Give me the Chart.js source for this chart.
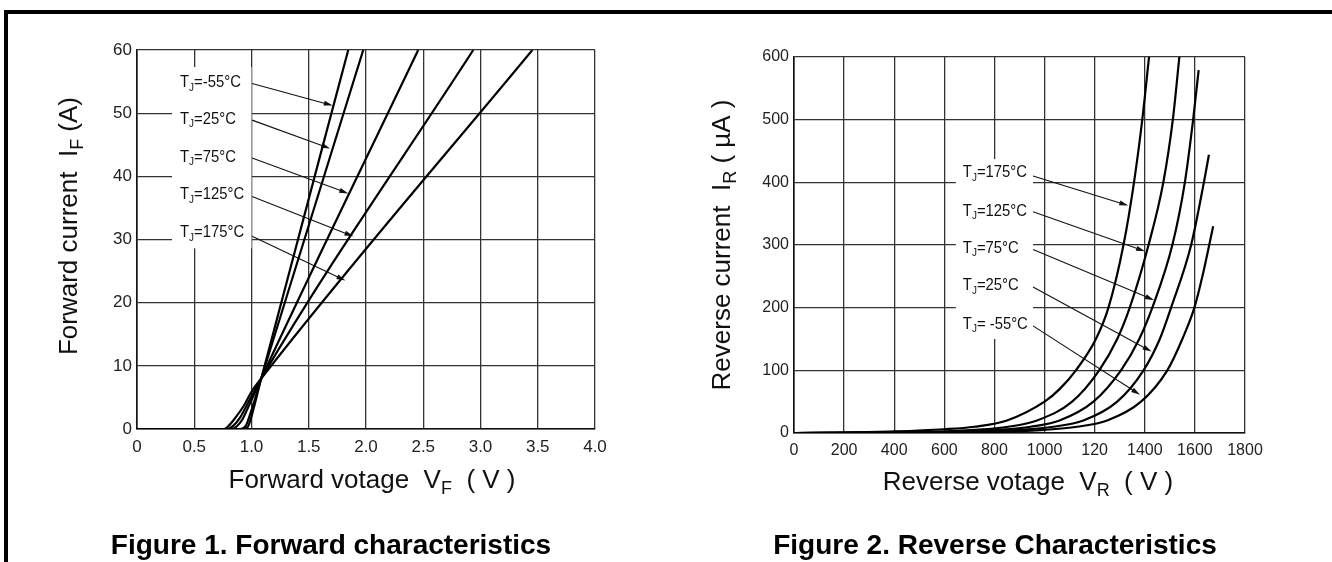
<!DOCTYPE html>
<html>
<head>
<meta charset="utf-8">
<script src="https://cdn.jsdelivr.net/npm/chart.js@4/dist/chart.umd.min.js"></script>
<style>
    html, body { margin: 0; padding: 0; background: #fff; }
    body { width: 1332px; height: 562px; position: relative; overflow: hidden; font-family: 'Liberation Sans', Arial, sans-serif; }
    .frame { position: absolute; left: 4px; top: 10px; width: 1328px; height: 552px; border-top: 4px solid #000; border-left: 4px solid #000; }
    canvas { position: absolute; top: 0; }
    #fwdChart { left: 0; }
    #revChart { left: 666px; }
    .caption { position: absolute; top: 530px; font-weight: bold; font-size: 28px; line-height: 30px; color: #000; white-space: nowrap; transform: translateX(-50%); }
</style>
</head>
<body>
<div class="frame"></div>
<canvas id="fwdChart" width="666" height="562"></canvas>
<canvas id="revChart" width="666" height="562"></canvas>
<div class="caption" style="left:331px">Figure 1. Forward characteristics</div>
<div class="caption" style="left:995px">Figure 2. Reverse Characteristics</div>

<script>
// ---- Figure 1 data: forward voltage (V) / forward current (A) ----
const fwdTemps = ['-55', '25', '75', '125', '175'];
const fwdV_m55 = [0, 0.93, 0.97, 1.0, 1.085, 1.845];
const fwdI_m55 = [0, 0, 0.4, 2.0, 8, 60];
const fwdV_25 = [0, 0.9, 0.95, 0.98, 1.085, 1.976];
const fwdI_25 = [0, 0, 0.5, 1.9, 8, 60];
const fwdV_75 = [0, 0.82, 0.87, 0.92, 0.97, 1.085, 2.456];
const fwdI_75 = [0, 0, 0.4, 1.5, 3.4, 8, 60];
const fwdV_125 = [0, 0.79, 0.84, 0.9, 0.96, 1.085, 2.937];
const fwdI_125 = [0, 0, 0.5, 1.8, 3.8, 8, 60];
const fwdV_175 = [0, 0.76, 0.8, 0.86, 0.93, 1.0, 1.085, 3.453];
const fwdI_175 = [0, 0, 0.5, 1.8, 3.6, 5.9, 8, 60];
const fwdXTicks = ['0', '0.5', '1.0', '1.5', '2.0', '2.5', '3.0', '3.5', '4.0'];
const fwdYTicks = ['0', '10', '20', '30', '40', '50', '60'];

// ---- Figure 2 data: reverse voltage (V) / reverse current (uA) ----
const revTemps = ['175', '125', '75', '25', ' -55'];
const revV_175 = [0, 200, 400, 600, 720, 850, 1000, 1060, 1125, 1205, 1255, 1315, 1357, 1390, 1417];
const revI_175 = [0, 0.8, 2.5, 6, 10, 20, 50, 70, 100, 150, 200, 300, 400, 500, 600];
const revV_125 = [0, 400, 550, 720, 855, 970, 1110, 1218, 1290, 1340, 1415, 1474, 1512, 1538];
const revI_125 = [0, 1, 2, 5, 10, 20, 50, 100, 150, 200, 300, 400, 500, 600];
const revV_75 = [0, 480, 640, 810, 945, 1060, 1195, 1305, 1378, 1430, 1510, 1560, 1593, 1615];
const revI_75 = [0, 1, 2, 5, 10, 20, 50, 100, 150, 200, 300, 400, 500, 579];
const revV_25 = [0, 580, 730, 900, 1035, 1155, 1290, 1395, 1460, 1505, 1585, 1636, 1656];
const revI_25 = [0, 1, 2, 5, 10, 20, 50, 100, 150, 200, 300, 400, 444];
const revV_m55 = [0, 680, 830, 1000, 1130, 1250, 1385, 1490, 1550, 1598, 1630, 1673];
const revI_m55 = [0, 1, 2, 5, 10, 20, 50, 100, 150, 200, 250, 330];
const revXTicks = ['0', '200', '400', '600', '800', '1000', '120', '1400', '1600', '1800'];
const revYTicks = ['0', '100', '200', '300', '400', '500', '600'];

// ---- callout anchors (data units) ----
const fwdNote = {
    textX: 0.376, textY: [54.8, 49.0, 43.0, 37.1, 31.1],
    fromX: 1.005, fromY: [54.7, 48.9, 42.9, 36.8, 30.5],
    toX: [1.71, 1.687, 1.845, 1.89, 1.82], toY: [51.2, 44.4, 37.3, 30.5, 23.5],
    box: [0.306, 1.0, 57.3, 28.6]
};
const revNote = {
    textX: 674, textY: [415, 354, 295, 235, 174],
    fromX: 954, fromY: [410, 353, 293, 233, 171],
    toX: [1334, 1401, 1437, 1427, 1381], toY: [363, 290, 212, 130, 61],
    box: [646, 954, 437, 150]
};

function toPoints(xs, ys) {
    return xs.map((x, i) => ({ x: x, y: ys[i] }));
}

function makeDataset(xs, ys) {
    return {
        data: toPoints(xs, ys),
        borderColor: '#000',
        borderWidth: 2.2,
        pointRadius: 0,
        fill: false,
        cubicInterpolationMode: 'monotone'
    };
}

// draws text runs, some of them as subscript; squeeze narrows the glyphs
function drawRuns(ctx, runs, x, y, size, align, squeeze) {
    const k = squeeze || 1;
    const subSize = Math.round(size * 0.68);
    let total = 0;
    runs.forEach(r => {
        ctx.font = (r.sub ? subSize : size) + "px 'Liberation Sans', Arial, sans-serif";
        r.w = ctx.measureText(r.t).width;
        total += r.w;
    });
    ctx.save();
    ctx.translate(x, y);
    ctx.scale(k, 1);
    let cx = align === 'center' ? -total / 2 : 0;
    ctx.textAlign = 'left';
    ctx.textBaseline = 'middle';
    runs.forEach(r => {
        ctx.font = (r.sub ? subSize : size) + "px 'Liberation Sans', Arial, sans-serif";
        ctx.fillText(r.t, cx, r.sub ? size * 0.3 : 0);
        cx += r.w;
    });
    ctx.restore();
}

function arrow(ctx, x1, y1, x2, y2) {
    const a = Math.atan2(y2 - y1, x2 - x1);
    ctx.beginPath();
    ctx.moveTo(x1, y1);
    ctx.lineTo(x2 - 6 * Math.cos(a), y2 - 6 * Math.sin(a));
    ctx.lineWidth = 1.1;
    ctx.stroke();
    ctx.beginPath();
    ctx.moveTo(x2, y2);
    ctx.lineTo(x2 - 9 * Math.cos(a) + 2.5 * Math.sin(a), y2 - 9 * Math.sin(a) - 2.5 * Math.cos(a));
    ctx.lineTo(x2 - 9 * Math.cos(a) - 2.5 * Math.sin(a), y2 - 9 * Math.sin(a) + 2.5 * Math.cos(a));
    ctx.closePath();
    ctx.fill();
}

/**
 * Callout labels with white box behind them (drawn over the grid)
 */
function calloutPlugin(note, temps) {
    return {
        id: 'callouts',
        beforeDatasetsDraw(chart) {
            const ctx = chart.ctx;
            const xs = chart.scales.x, ys = chart.scales.y;
            ctx.save();
            const bx1 = xs.getPixelForValue(note.box[0]), bx2 = xs.getPixelForValue(note.box[1]);
            const by1 = ys.getPixelForValue(note.box[2]), by2 = ys.getPixelForValue(note.box[3]);
            ctx.fillStyle = '#fff';
            ctx.fillRect(bx1, by1, bx2 - bx1, by2 - by1);
            ctx.fillStyle = '#111';
            ctx.strokeStyle = '#111';
            temps.forEach((t, i) => {
                drawRuns(ctx, [{ t: 'T' }, { t: 'J', sub: true }, { t: '=' + t + '°C' }],
                    xs.getPixelForValue(note.textX), ys.getPixelForValue(note.textY[i]), 16.5, 'left', 0.9);
                arrow(ctx, xs.getPixelForValue(note.fromX), ys.getPixelForValue(note.fromY[i]),
                    xs.getPixelForValue(note.toX[i]), ys.getPixelForValue(note.toY[i]));
            });
            ctx.restore();
        }
    };
}

function titlePlugin(xRuns, xPos, yRuns, yPos) {
    return {
        id: 'axisTitles',
        afterDraw(chart) {
            const ctx = chart.ctx;
            ctx.save();
            ctx.fillStyle = '#111';
            drawRuns(ctx, xRuns, xPos[0], xPos[1], 26, 'center');
            ctx.translate(yPos[0], yPos[1]);
            ctx.rotate(-Math.PI / 2);
            drawRuns(ctx, yRuns, 0, 0, 26, 'center');
            ctx.restore();
        }
    };
}

function axisOptions(min, max, step, labels, fontSize, isX) {
    return {
        type: 'linear',
        min: min,
        max: max,
        afterFit: s => { if (isX) s.height = 30; else s.width = 40; },
        ticks: {
            stepSize: step,
            autoSkip: false,
            padding: isX ? 8 : 5,
            color: '#222',
            font: { size: fontSize, family: "'Liberation Sans', Arial, sans-serif" },
            callback: (v, i) => labels[i]
        },
        grid: { color: '#333', lineWidth: 1.3, drawTicks: false },
        border: { color: '#111', width: 1.6 }
    };
}

function buildChart(id, datasets, pad, xAxis, yAxis, plugins) {
    return new Chart(document.getElementById(id), {
        type: 'line',
        data: { datasets: datasets },
        options: {
            responsive: false,
            animation: false,
            devicePixelRatio: 1,
            layout: { padding: pad },
            plugins: { legend: { display: false }, tooltip: { enabled: false } },
            scales: { x: xAxis, y: yAxis }
        },
        plugins: plugins
    });
}

buildChart('fwdChart',
    [makeDataset(fwdV_m55, fwdI_m55), makeDataset(fwdV_25, fwdI_25), makeDataset(fwdV_75, fwdI_75),
     makeDataset(fwdV_125, fwdI_125), makeDataset(fwdV_175, fwdI_175)],
    { left: 97, top: 50, right: 71, bottom: 103 },
    axisOptions(0, 4, 0.5, fwdXTicks, 17, true),
    axisOptions(0, 60, 10, fwdYTicks, 17, false),
    [calloutPlugin(fwdNote, fwdTemps),
     titlePlugin([{ t: 'Forward votage  V' }, { t: 'F', sub: true }, { t: '  ( V )' }], [372, 481],
                 [{ t: 'Forward current  I' }, { t: 'F', sub: true }, { t: ' (A)' }], [70, 226])]
);

buildChart('revChart',
    [makeDataset(revV_175, revI_175), makeDataset(revV_125, revI_125), makeDataset(revV_75, revI_75),
     makeDataset(revV_25, revI_25), makeDataset(revV_m55, revI_m55)],
    { left: 88, top: 57, right: 87, bottom: 99 },
    axisOptions(0, 1800, 200, revXTicks, 16, true),
    axisOptions(0, 600, 100, revYTicks, 16, false),
    [calloutPlugin(revNote, revTemps),
     titlePlugin([{ t: 'Reverse votage  V' }, { t: 'R', sub: true }, { t: '  ( V )' }], [362, 483],
                 [{ t: 'Reverse current  I' }, { t: 'R', sub: true }, { t: ' ( µA )' }], [57, 245])]
);
</script>
</body>
</html>
